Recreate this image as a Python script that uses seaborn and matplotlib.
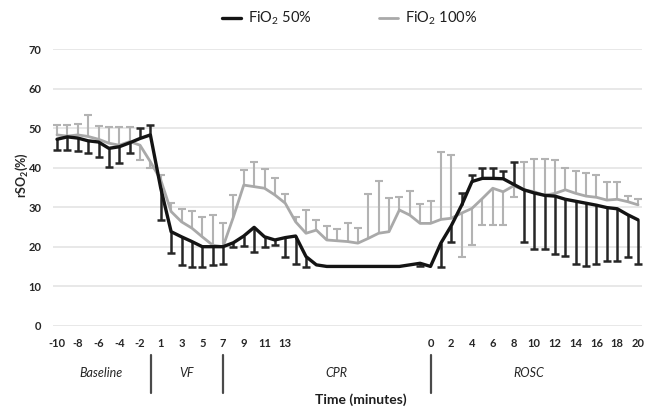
import numpy as np
import pandas as pd
import matplotlib
matplotlib.use("Agg")
import matplotlib.pyplot as plt
from matplotlib.lines import Line2D
from matplotlib.transforms import blended_transform_factory
import seaborn as sns

# ---------------- data ----------------
baseline_minutes = [-10, -9, -8, -7, -6, -5, -4, -3, -2, -1]
vf_minutes = [1, 2, 3, 4, 5, 6, 7]
cpr_minutes = [8, 9, 10, 11, 12, 13, 14, 15, 16, 17, 18, 19, 20, 21, 22, 23, 24, 25, 26]
rosc_minutes = [0, 1, 2, 3, 4, 5, 6, 7, 8, 9, 10, 11, 12, 13, 14, 15, 16, 17, 18, 19, 20]

baseline_ticks = [-10, -8, -6, -4, -2]
vf_ticks = [1, 3, 5, 7]
cpr_ticks = [9, 11, 13]
rosc_ticks = [0, 2, 4, 6, 8, 10, 12, 14, 16, 18, 20]

phase_names = ["Baseline", "VF", "CPR", "ROSC"]
series_names = ["FiO$_2$ 50%", "FiO$_2$ 100%"]

fio50_mean = [47.2, 47.8, 47.5, 46.8, 46.5, 44.9, 45.3, 46.3, 47.4, 48.3,
              34.8, 23.8, 22.5, 21.3, 20.0, 20.0, 20.0,
              21.0, 22.7, 24.9, 22.5, 21.7, 22.3, 22.7, 17.5, 15.4, 15.0, 15.0, 15.0,
              15.0, 15.0, 15.0, 15.0, 15.0, 15.4, 15.8,
              15.0, 20.9, 25.3, 30.5, 36.5, 37.3, 37.3, 37.2, 35.8, 34.4, 33.6, 33.0,
              32.8, 32.0, 31.5, 31.0, 30.5, 29.9, 29.6, 28.1, 26.8]
fio50_err_up = [0, 0, 0, 0, 0, 0, 0, 0, 2.6, 2.5,
                0, 0, 0, 0, 0, 0, 0,
                0, 0, 0, 0, 0, 0, 0, 0, 0, 0, 0, 0, 0, 0, 0, 0, 0, 0, 0,
                0, 0, 0, 3.0, 1.7, 2.6, 2.6, 1.9, 5.7, 0, 0, 0, 0, 0, 0, 0, 0, 0, 0, 0, 0]
fio50_err_down = [2.7, 3.3, 3.2, 3.2, 3.7, 4.8, 4.2, 2.5, 0, 0,
                  8.0, 5.5, 7.1, 6.4, 5.1, 4.6, 4.4,
                  1.0, 2.5, 6.3, 2.5, 1.3, 5.0, 7.0, 2.6, 0, 0, 0, 0, 0, 0, 0, 0, 0, 0, 0.6,
                  0, 6.0, 4.0, 0, 0, 0, 0, 0, 0, 13.1, 14.2, 13.6, 14.6, 14.3, 15.9,
                  15.8, 14.9, 13.4, 13.1, 10.6, 11.2]

fio100_mean = [48.3, 48.0, 48.3, 47.9, 47.2, 46.2, 45.7, 46.6, 45.7, 41.5,
               36.9, 28.9, 26.3, 24.7, 22.5, 20.4, 20.0,
               27.5, 35.6, 35.2, 34.8, 33.1, 31.0, 26.3, 23.4, 24.2, 21.7, 21.5, 21.3,
               20.9, 22.1, 23.4, 23.8, 29.3, 28.0, 25.9,
               25.9, 26.9, 27.2, 28.5, 29.7, 32.2, 34.8, 33.9, 35.4, 34.4, 33.9, 33.0,
               33.5, 34.4, 33.5, 32.8, 32.5, 31.8, 32.0, 31.4, 30.6]
fio100_err_up = [2.5, 2.8, 2.8, 5.4, 3.4, 4.2, 4.7, 3.8, 0, 0,
                 1.3, 2.2, 3.2, 4.3, 5.1, 7.6, 5.9,
                 5.6, 3.8, 6.3, 4.9, 4.2, 2.3, 1.3, 6.0, 2.6, 3.6, 2.9, 4.8, 3.8, 11.2,
                 13.3, 8.6, 3.4, 6.2, 4.9,
                 5.6, 17.2, 16.0, 0, 0, 0, 0, 0, 0, 7.1, 8.2, 9.2, 8.5, 5.6, 5.7, 5.9,
                 5.7, 4.7, 4.5, 1.4, 1.4]
fio100_err_down = [0, 0, 0, 0, 0, 0, 0, 0, 3.8, 1.7,
                   0, 0, 0, 0, 0, 0, 0,
                   0, 0, 0, 0, 0, 0, 0, 0, 0, 0, 0, 0, 0, 0, 0, 0, 0, 0, 0,
                   0, 0, 0, 11.0, 9.3, 6.7, 9.3, 8.4, 2.7, 0, 0, 0, 0, 0, 0, 0, 0, 0, 0, 0, 0]

y_ticks = [0, 10, 20, 30, 40, 50, 60, 70]

# ---------------- build tables ----------------
phases = ([phase_names[0]] * len(baseline_minutes) + [phase_names[1]] * len(vf_minutes)
          + [phase_names[2]] * len(cpr_minutes) + [phase_names[3]] * len(rosc_minutes))
minutes = baseline_minutes + vf_minutes + cpr_minutes + rosc_minutes
pos = np.arange(len(minutes))
shown = {phase_names[0]: baseline_ticks, phase_names[1]: vf_ticks,
         phase_names[2]: cpr_ticks, phase_names[3]: rosc_ticks}
tick_pos = [p for p, ph, m in zip(pos, phases, minutes) if m in shown[ph]]
tick_lab = [str(m) for p, ph, m in zip(pos, phases, minutes) if m in shown[ph]]

df50 = pd.DataFrame({"pos": pos, "value": fio50_mean, "series": series_names[0]})
df100 = pd.DataFrame({"pos": pos, "value": fio100_mean, "series": series_names[1]})

# ---------------- style ----------------
sns.set_theme(style="white")
plt.rcParams["font.family"] = ["Lato", "DejaVu Sans"]
plt.rcParams["mathtext.default"] = "regular"

BLACK = "#141414"
GRAY = "#a9a9a9"
GRAY_ERR = "#b3b3b3"
TXT = "#262626"

fig = plt.figure(figsize=(6.47, 4.09), dpi=100)
ax = fig.add_axes([0.0817, 0.2037, 0.9108, 0.676])


def draw_err(x, mean, up, down, color, lw, z):
    x = np.asarray(x, float)
    mean = np.asarray(mean, float)
    up = np.asarray(up, float)
    down = np.asarray(down, float)
    m = up > 0
    ax.vlines(x[m], mean[m], mean[m] + up[m], color=color, lw=lw, zorder=z)
    ax.scatter(x[m], mean[m] + up[m], marker="_", s=30, color=color,
               linewidths=lw, zorder=z)
    m = down > 0
    ax.vlines(x[m], mean[m] - down[m], mean[m], color=color, lw=lw, zorder=z)
    ax.scatter(x[m], mean[m] - down[m], marker="_", s=30, color=color,
               linewidths=lw, zorder=z)


draw_err(pos, fio100_mean, fio100_err_up, fio100_err_down, GRAY_ERR, 1.5, 2)
sns.lineplot(data=df100, x="pos", y="value", color=GRAY, lw=2.0, ax=ax,
             legend=False, zorder=3)
draw_err(pos, fio50_mean, fio50_err_up, fio50_err_down, "#262626", 1.8, 4)
sns.lineplot(data=df50, x="pos", y="value", color=BLACK, lw=2.4, ax=ax,
             legend=False, zorder=5)

ax.set_xlim(-0.4, len(pos) - 1 + 0.4)
ax.set_ylim(0, 70)
ax.set_yticks(y_ticks)
ax.set_xticks(tick_pos)
ax.set_xticklabels(tick_lab)
ax.yaxis.grid(True, color="#e1e1e1", lw=1.1)
ax.xaxis.grid(False)
ax.set_axisbelow(True)
for s in ax.spines.values():
    s.set_visible(False)
ax.tick_params(axis="both", length=0, labelsize=8, labelcolor=TXT)
ax.tick_params(axis="y", pad=8)
ax.tick_params(axis="x", pad=9)
for t in ax.get_xticklabels() + ax.get_yticklabels():
    t.set_fontweight("bold")
ax.set_xlabel("")
ax.set_ylabel("")

# phase labels and dividers below axis
tr = blended_transform_factory(ax.transData, ax.transAxes)
phase_centers = [4.2, 12.5, 26.9, 45.5]
for name, cx in zip(phase_names, phase_centers):
    ax.text(cx, -0.17, name, transform=tr, ha="center", va="center",
            fontsize=9, style="italic", color=TXT, clip_on=False)
for dx in [9.1, 16.0, 36.0]:
    ax.add_line(Line2D([dx, dx], [-0.105, -0.245], transform=tr, color="#4a4a4a",
                       lw=1.6, clip_on=False))
ax.text(29.3, -0.268, "Time (minutes)", transform=tr, ha="center", va="center",
        fontsize=10, fontweight="bold", color="#1e1e1e", clip_on=False)

fig.text(0.034, 1 - 175 / 409, "rSO$_2$(%)", rotation=90, ha="center", va="center",
         fontsize=9, fontweight="bold", color=TXT)

handles = [Line2D([], [], color=BLACK, lw=2.4), Line2D([], [], color=GRAY, lw=2.0)]
fig.legend(handles, series_names, loc="center", bbox_to_anchor=(0.54, 0.955), ncol=2,
           frameon=False, fontsize=10.5, handlelength=1.3, handletextpad=0.5,
           columnspacing=4.6, labelcolor="#1e1e1e")

fig.savefig("out.png", dpi=100)
